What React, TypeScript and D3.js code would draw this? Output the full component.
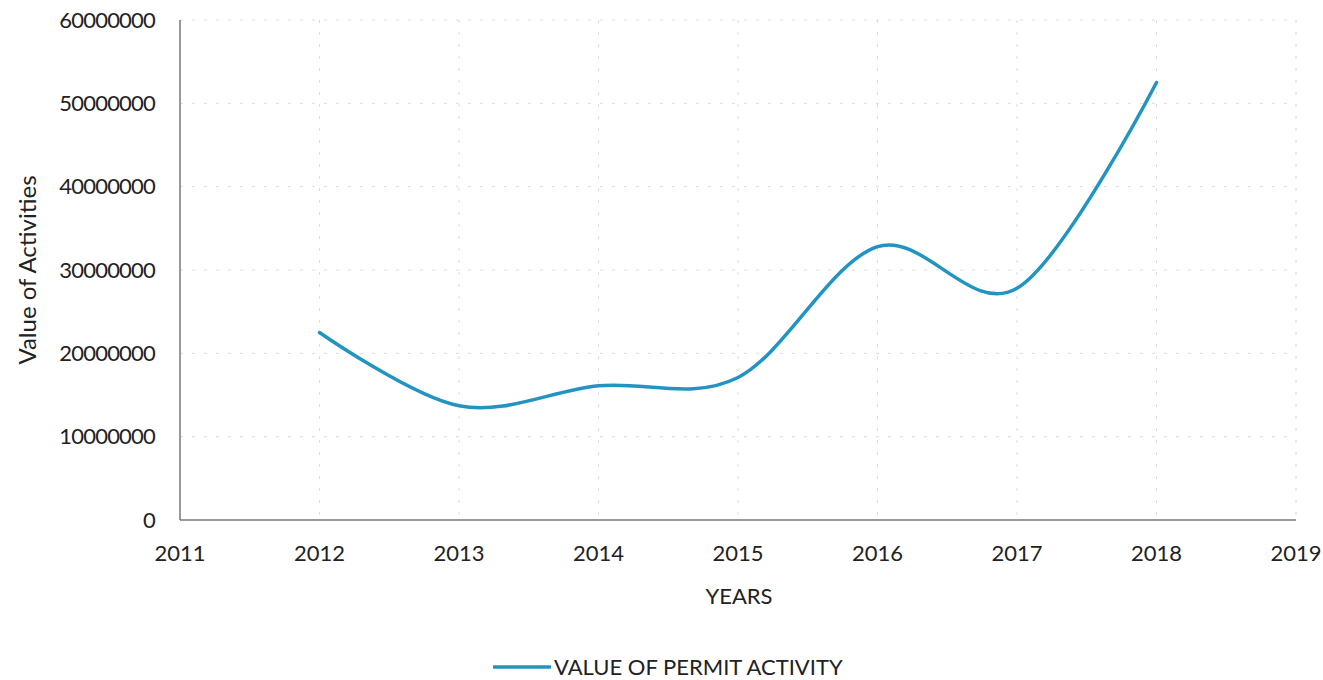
import React from "react";
import * as d3 from "d3";

const years = [2012, 2013, 2014, 2015, 2016, 2017, 2018];
const permitValues = [22500000, 13700000, 16100000, 17100000, 32800000, 27800000, 52500000];
const xTicks = [2011, 2012, 2013, 2014, 2015, 2016, 2017, 2018, 2019];
const yTicks = [0, 10000000, 20000000, 30000000, 40000000, 50000000, 60000000];
const seriesName = "VALUE OF PERMIT ACTIVITY";
const xTitle = "YEARS";
const yTitle = "Value of Activities";

const W = 1323;
const H = 680;
const left = 180;
const right = 1296;
const top = 20;
const bottom = 520;
const font = "Lato, 'Open Sans', sans-serif";
const lineColor = "#2294c2";

export default function App() {
  const x = d3.scaleLinear().domain([2011, 2019]).range([left, right]);
  const y = d3.scaleLinear().domain([0, 60000000]).range([bottom, top]);
  const line = d3
    .line<number>()
    .x((_, i) => x(years[i]))
    .y((d) => y(d))
    .curve(d3.curveCardinal.tension(0));
  const path = line(permitValues) || "";

  return (
    <svg
      width={W}
      height={H}
      style={{ position: "absolute", left: 0, top: 0, background: "#fff" }}
    >
      {yTicks.slice(1).map((t) => (
        <line
          key={"gy" + t}
          x1={left}
          x2={right}
          y1={y(t)}
          y2={y(t)}
          stroke="#dcdcdc"
          strokeWidth={1}
          strokeDasharray="3,9"
        />
      ))}
      {xTicks.slice(1).map((t) => (
        <line
          key={"gx" + t}
          x1={x(t)}
          x2={x(t)}
          y1={top}
          y2={bottom}
          stroke="#dcdcdc"
          strokeWidth={1}
          strokeDasharray="3,9"
        />
      ))}
      <line x1={left} x2={left} y1={top} y2={bottom} stroke="#777" strokeWidth={1.5} />
      <line x1={left} x2={right} y1={bottom} y2={bottom} stroke="#777" strokeWidth={1.5} />
      {yTicks.map((t) => (
        <text
          key={"ty" + t}
          x={155}
          y={y(t)}
          dy="0.35em"
          textAnchor="end"
          fontFamily={font}
          fontSize={22}
          letterSpacing={-0.8}
          fill="#222"
        >
          {t}
        </text>
      ))}
      {xTicks.map((t) => (
        <text
          key={"tx" + t}
          x={x(t)}
          y={561}
          textAnchor="middle"
          fontFamily={font}
          fontSize={22}
          fill="#222"
        >
          {t}
        </text>
      ))}
      <text
        x={739}
        y={604}
        textAnchor="middle"
        fontFamily={font}
        fontSize={22}
        fill="#222"
      >
        {xTitle}
      </text>
      <text
        transform={`translate(36,${270}) rotate(-90)`}
        textAnchor="middle"
        fontFamily={font}
        fontSize={24}
        fill="#222"
      >
        {yTitle}
      </text>
      <path d={path} fill="none" stroke={lineColor} strokeWidth={3.5} strokeLinecap="round" />
      <line x1={493} x2={551} y1={667} y2={667} stroke={lineColor} strokeWidth={3.5} />
      <text x={554} y={675} fontFamily={font} fontSize={22} fill="#222">
        {seriesName}
      </text>
    </svg>
  );
}
